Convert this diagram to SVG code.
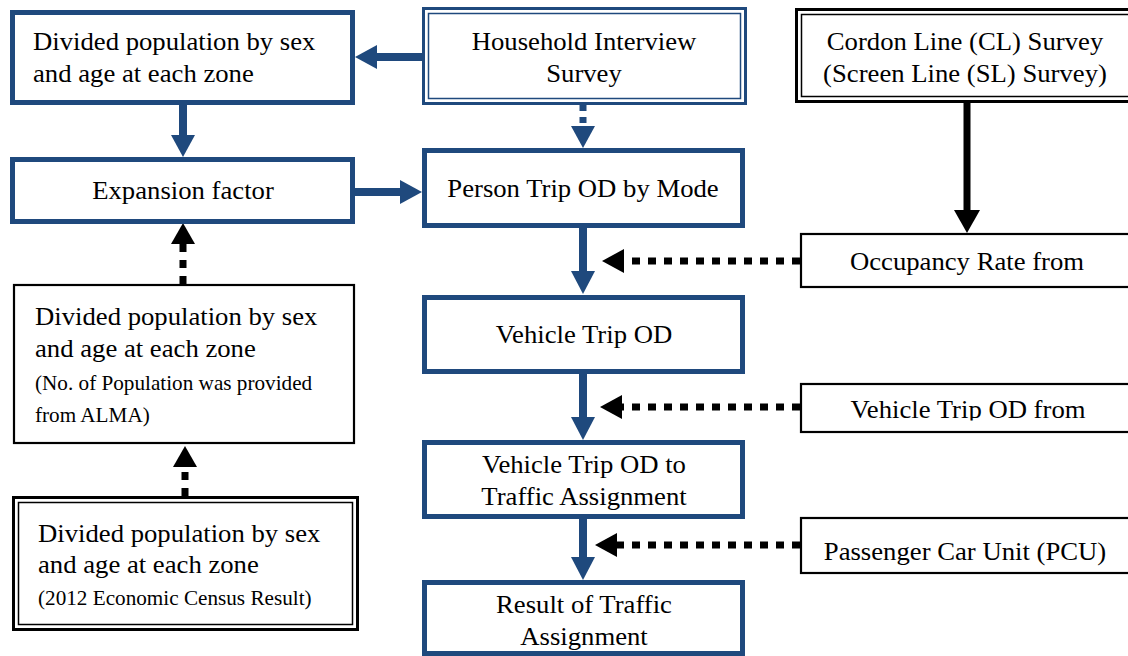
<svg xmlns="http://www.w3.org/2000/svg" width="1128" height="656" viewBox="0 0 1128 656">
<style>
.bb{fill:#fff;stroke:#1F497D;stroke-width:5}
.bo{fill:none;stroke:#1F497D;stroke-width:3}
.bi{fill:none;stroke:#1F497D;stroke-width:1.5}
.kb{fill:#fff;stroke:#000;stroke-width:2.2}
.ko{fill:#fff;stroke:#000;stroke-width:3}
.ki{fill:none;stroke:#000;stroke-width:1.5}
text{font-family:"Liberation Serif","Times New Roman",serif;font-size:24.5px;fill:#000}
.c{text-anchor:middle}
.s{font-size:20px}
.bl{stroke:#1F497D;stroke-width:8;fill:none}
.bd{stroke:#1F497D;stroke-width:7;fill:none;stroke-dasharray:6 6}
.kl{stroke:#000;stroke-width:7;fill:none}
.kd{stroke:#000;stroke-width:7;fill:none;stroke-dasharray:8 8}
.hb{fill:#1F497D}
.hk{fill:#000}
</style>
<defs>
<clipPath id="clipVOD"><rect x="-200" y="375" width="400" height="45.5"/></clipPath>
</defs>
<rect width="1128" height="656" fill="#fff"/>

<g id="connectors">
<line class="bl" x1="423" y1="57" x2="376" y2="57"/>
<polygon class="hb" points="355,57 377,45 377,69"/>
<line class="bl" x1="183" y1="105" x2="183" y2="137"/>
<polygon class="hb" points="183,157 171,135 195,135"/>
<line class="bl" x1="355" y1="192" x2="401" y2="192"/>
<polygon class="hb" points="422,192 400,180 400,204"/>
<line class="bd" x1="583" y1="105" x2="583" y2="127"/>
<polygon class="hb" points="583,148 571,126 595,126"/>
<line class="kl" x1="967" y1="103" x2="967" y2="211"/>
<polygon class="hk" points="967,233 954,210 980,210"/>
<line class="kd" x1="800" y1="261" x2="622" y2="261"/>
<polygon class="hk" points="602,261 624,249 624,273"/>
<line class="bl" x1="583" y1="228" x2="583" y2="273"/>
<polygon class="hb" points="583,294 571,271 595,271"/>
<line class="kd" x1="800" y1="407" x2="620" y2="407"/>
<polygon class="hk" points="600,407 622,395 622,419"/>
<line class="bl" x1="583" y1="374" x2="583" y2="419"/>
<polygon class="hb" points="583,440 571,417 595,417"/>
<line class="kd" x1="800" y1="545" x2="616" y2="545"/>
<polygon class="hk" points="595,545 617,533 617,557"/>
<line class="bl" x1="583" y1="519" x2="583" y2="559"/>
<polygon class="hb" points="583,580 571,557 595,557"/>
<line class="kd" x1="183" y1="284" x2="183" y2="242"/>
<polygon class="hk" points="183,223 171,244 195,244"/>
<line class="kd" x1="185" y1="496" x2="185" y2="466"/>
<polygon class="hk" points="185,446 173,467 197,467"/>
</g>

<g id="node-pop-top">
<rect class="bb" x="12.5" y="12.5" width="340" height="90"/>
<g transform="translate(33 0) scale(1.09 1)">
<text x="0" y="50">Divided population by sex</text>
<text x="0" y="82">and age at each zone</text>
</g>
</g>

<g id="node-household">
<rect x="423.5" y="8.5" width="322" height="95" fill="#fff"/>
<rect class="bo" x="423.5" y="8.5" width="322" height="95"/>
<rect class="bi" x="428.5" y="13.5" width="312" height="85"/>
<g transform="translate(584 0) scale(1.09 1)">
<text class="c" x="0" y="50">Household Interview</text>
<text class="c" x="0" y="82">Survey</text>
</g>
</g>

<g id="node-cordon">
<rect class="ko" x="796.5" y="9.5" width="400" height="92"/>
<rect class="ki" x="801.5" y="14.5" width="400" height="82"/>
<g transform="translate(965 0) scale(1.09 1)">
<text class="c" x="0" y="50">Cordon Line (CL) Survey</text>
<text class="c" x="0" y="82">(Screen Line (SL) Survey)</text>
</g>
</g>

<g id="node-expansion">
<rect class="bb" x="12.5" y="159.5" width="340" height="62"/>
<g transform="translate(183 0) scale(1.09 1)">
<text class="c" x="0" y="199">Expansion factor</text>
</g>
</g>

<g id="node-person-trip">
<rect class="bb" x="424.5" y="150.5" width="318" height="75"/>
<g transform="translate(583 0) scale(1.09 1)">
<text class="c" x="0" y="197">Person Trip OD by Mode</text>
</g>
</g>

<g id="node-occupancy">
<rect class="kb" x="801" y="234" width="400" height="53"/>
<g transform="translate(967 0) scale(1.09 1)">
<text class="c" x="0" y="270">Occupancy Rate from</text>
</g>
</g>

<g id="node-pop-alma">
<rect class="kb" x="14" y="285" width="340" height="158"/>
<g transform="translate(35 0) scale(1.09 1)">
<text x="0" y="325">Divided population by sex</text>
<text x="0" y="357">and age at each zone</text>
</g>
<g transform="translate(35 0) scale(1.06 1)">
<text class="s" x="0" y="390">(No. of Population was provided</text>
<text class="s" x="0" y="422">from ALMA)</text>
</g>
</g>

<g id="node-vehicle-trip">
<rect class="bb" x="424.5" y="297.5" width="318" height="74"/>
<g transform="translate(584 0) scale(1.09 1)">
<text class="c" x="0" y="343">Vehicle Trip OD</text>
</g>
</g>

<g id="node-vod-from">
<rect class="kb" x="801" y="384" width="400" height="48"/>
<g transform="translate(968 0) scale(1.09 1)">
<text class="c" x="0" y="418" clip-path="url(#clipVOD)">Vehicle Trip OD from</text>
</g>
</g>

<g id="node-vod-ta">
<rect class="bb" x="424.5" y="442.5" width="318" height="74"/>
<g transform="translate(584 0) scale(1.09 1)">
<text class="c" x="0" y="473">Vehicle Trip OD to</text>
<text class="c" x="0" y="505">Traffic Assignment</text>
</g>
</g>

<g id="node-pcu">
<rect class="kb" x="801" y="518" width="400" height="55"/>
<g transform="translate(965 0) scale(1.09 1)">
<text class="c" x="0" y="560">Passenger Car Unit (PCU)</text>
</g>
</g>

<g id="node-result">
<rect class="bb" x="424.5" y="582.5" width="318" height="71"/>
<g transform="translate(584 0) scale(1.09 1)">
<text class="c" x="0" y="613">Result of Traffic</text>
<text class="c" x="0" y="645">Assignment</text>
</g>
</g>

<g id="node-pop-census">
<rect class="ko" x="13.5" y="497.5" width="344" height="132"/>
<rect class="ki" x="18.5" y="502.5" width="334" height="122"/>
<g transform="translate(38 0) scale(1.09 1)">
<text x="0" y="542">Divided population by sex</text>
<text x="0" y="573">and age at each zone</text>
</g>
<g transform="translate(38 0) scale(1.06 1)">
<text class="s" x="0" y="605">(2012 Economic Census Result)</text>
</g>
</g>
</svg>
